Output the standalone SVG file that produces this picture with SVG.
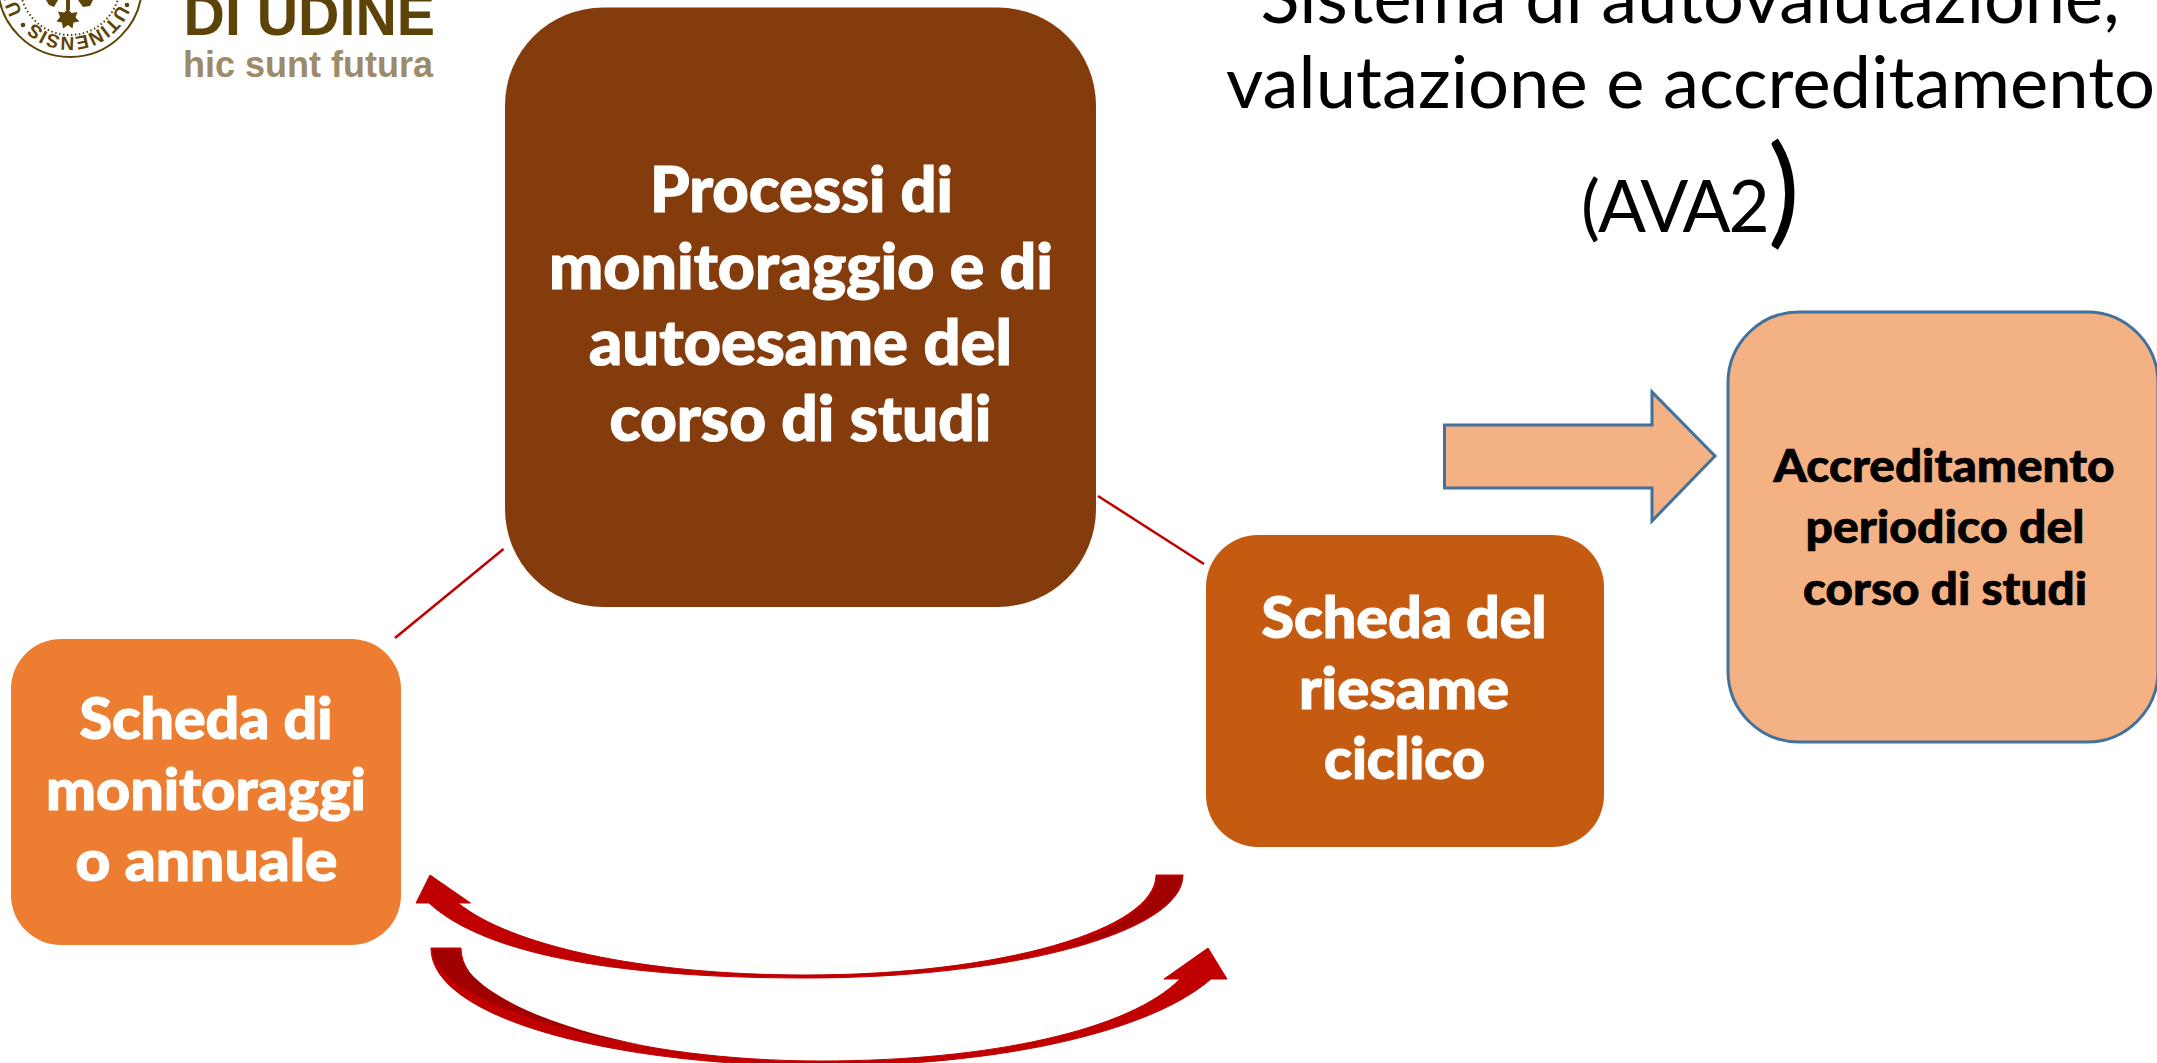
<svg xmlns="http://www.w3.org/2000/svg" width="2157" height="1063" viewBox="0 0 2157 1063">
<style>
text{font-family:"Lato","Liberation Sans",sans-serif}
.b{font-weight:900;text-anchor:middle}
.w{fill:#fff;stroke:#fff;stroke-width:1.2px}
.main{font-size:62px}
.sm{font-size:58px}
.acc{font-size:45px;fill:#000;stroke:#000;stroke-width:.7px}
.title{font-weight:400;font-size:71px;fill:#000}
.logo{font-family:"Liberation Sans",sans-serif;font-weight:700}
.seal{font-family:"Liberation Sans",sans-serif;font-weight:700;fill:#5c4409;font-size:19px}
.ln{stroke:#c00000;stroke-width:2.5;fill:none}
.br{fill:#c00000;stroke:#c00000;stroke-width:1}
.dk{fill:#a00000}
</style>
<rect width="2157" height="1063" fill="#fff"/>
<g id="logo">
<circle cx="70" cy="-15" r="72" fill="none" stroke="#5c4409" stroke-width="2"/>
<circle cx="70" cy="-15" r="50" fill="none" stroke="#5c4409" stroke-width="2" stroke-dasharray="1.5 2.5"/>
<path id="sa" d="M118.200 4.500A52 52 0 0 1 27.400 14.800" fill="none"/>
<path id="sb" d="M22.400 12.500A55 55 0 0 1 16 -24.500" fill="none"/>
<text class="seal"><textPath href="#sa">UTINENSIS</textPath></text>
<text class="seal"><textPath href="#sb">UR</textPath></text>
<circle cx="23" cy="25" r="2.300" fill="#5c4409"/>
<circle cx="127" cy="5" r="2.300" fill="#5c4409"/>
<path d="M68 9l3.500 4 6-1-2 5.500 4 4-6 1-1 6-4.500-3.500-5 3.500-1-6-5.500-1 3.500-4.500-2-5.500 6 1z" fill="#5c4409"/>
<path d="M66 0h4v10h-4zM46 0h12l-4 7-5-2zM78 0h15l-3 6-7 1z" fill="#5c4409"/>
<text class="logo" x="183.500" y="35" font-size="57.300" fill="#5c4409">DI UDINE</text>
<text class="logo" x="183" y="77" font-size="36" fill="#9c8a68">hic sunt futura</text>
</g>
<g id="title">
<text class="title" x="1690" y="23" text-anchor="middle" textLength="859" lengthAdjust="spacingAndGlyphs">Sistema di autovalutazione,</text>
<text class="title" x="1690.500" y="108" text-anchor="middle" textLength="929" lengthAdjust="spacingAndGlyphs">valutazione e accreditamento</text>
<text class="title" x="1581" y="232"><tspan letter-spacing="-2">(AVA2</tspan><tspan font-size="120">)</tspan></text>
</g>
<g id="connectors">
<line class="ln" x1="395" y1="638" x2="503.500" y2="549"/>
<line class="ln" x1="1098" y1="496" x2="1204" y2="564"/>
<g id="arrow-top">
<path class="br" d="M430 875L470.500 903H458C510 945 640 975 806 975C1000 975 1156 930 1156 875H1183C1183 932 1014 978 806 978C600 978 480 950 429 903H416z"/>
<path class="dk" d="M1157.500 876.500H1181.500C1181.500 905 1130 933 1060 949C1110 933 1157 905 1157.500 876.500z"/>
</g>
<g id="arrow-bottom">
<path class="br" d="M431 948H461C461 1015 640 1061 821 1061C990 1061 1130 1030 1180 979H1164L1208 948L1227 979H1211C1150 1032 1000 1066 821 1066C620 1066 431 1020 431 948z"/>
<path class="dk" d="M432.500 949.500H459.500C460 985 540 1028 660 1048C540 1030 433 990 432.500 949.500z"/>
</g>
</g>
<g id="node-processi">
<rect x="505" y="7.500" width="591" height="599.500" rx="98" fill="#843c0c"/>
<text class="b w main" x="801.500" y="212" textLength="303" lengthAdjust="spacingAndGlyphs">Processi di</text>
<text class="b w main" x="801" y="289" textLength="504" lengthAdjust="spacingAndGlyphs">monitoraggio e di</text>
<text class="b w main" x="800.500" y="365" textLength="423" lengthAdjust="spacingAndGlyphs">autoesame del</text>
<text class="b w main" x="800.500" y="441" textLength="382" lengthAdjust="spacingAndGlyphs">corso di studi</text>
</g>
<g id="node-monitoraggio">
<rect x="11" y="639" width="390" height="306" rx="50" fill="#ed7d31"/>
<text class="b w sm" x="206" y="739" textLength="253" lengthAdjust="spacingAndGlyphs">Scheda di</text>
<text class="b w sm" x="206" y="810" textLength="320" lengthAdjust="spacingAndGlyphs">monitoraggi</text>
<text class="b w sm" x="206.500" y="881" textLength="262" lengthAdjust="spacingAndGlyphs">o annuale</text>
</g>
<g id="node-riesame">
<rect x="1206" y="535" width="398" height="312" rx="52" fill="#c55a11"/>
<text class="b w sm" x="1404" y="638" textLength="285" lengthAdjust="spacingAndGlyphs">Scheda del</text>
<text class="b w sm" x="1404" y="709" textLength="210" lengthAdjust="spacingAndGlyphs">riesame</text>
<text class="b w sm" x="1404.500" y="779" textLength="161" lengthAdjust="spacingAndGlyphs">ciclico</text>
</g>
<g id="node-accreditamento">
<path id="block-arrow" d="M1444.500 425H1652V392L1715 456L1652 521V488H1444.500z" fill="#f4b183" stroke="#41719c" stroke-width="3"/>
<rect x="1728" y="312" width="430" height="430" rx="71" fill="#f4b183" stroke="#41719c" stroke-width="3"/>
<text class="b acc" x="1944" y="482" textLength="341" lengthAdjust="spacingAndGlyphs">Accreditamento</text>
<text class="b acc" x="1945" y="543" textLength="279" lengthAdjust="spacingAndGlyphs">periodico del</text>
<text class="b acc" x="1945" y="605" textLength="284" lengthAdjust="spacingAndGlyphs">corso di studi</text>
</g>
</svg>
